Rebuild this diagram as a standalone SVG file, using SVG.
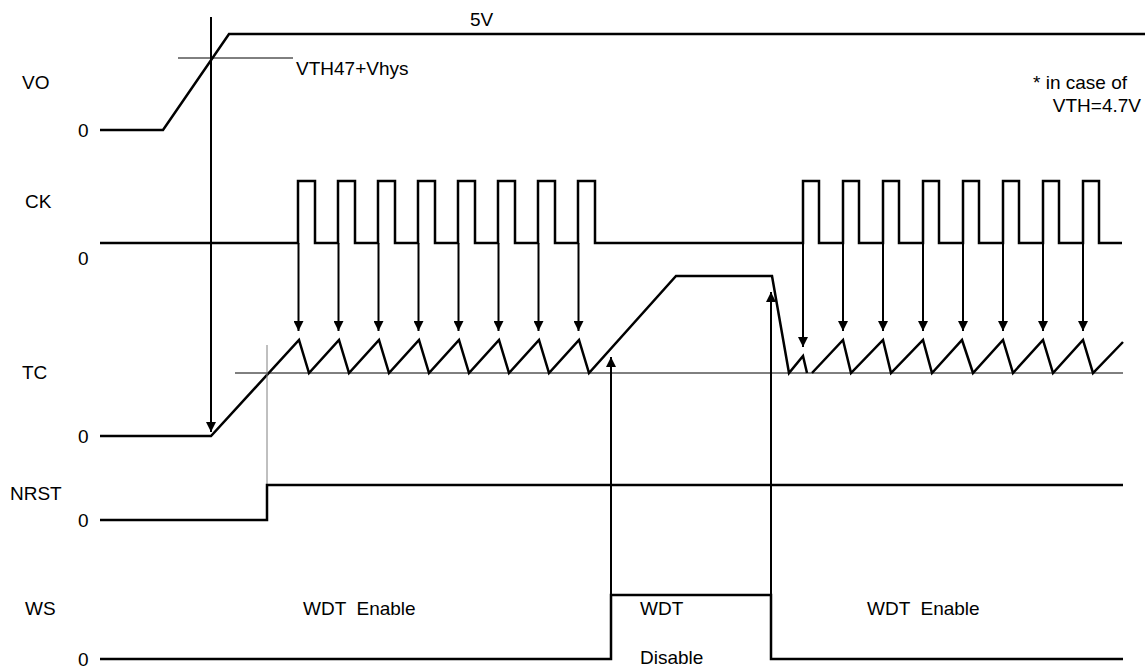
<svg xmlns="http://www.w3.org/2000/svg" width="1145" height="669" viewBox="0 0 1145 669">
<style>
text{font-family:"Liberation Sans",Arial,sans-serif;font-size:19px;fill:#000}
.sig{fill:none;stroke:#000;stroke-width:2.5;stroke-linejoin:miter}
.thin{fill:none;stroke:#000;stroke-width:1}
.gray{fill:none;stroke:#808080;stroke-width:1}
.arr{fill:none;stroke:#000;stroke-width:2;marker-end:url(#ah)}
</style>
<defs>
<marker id="ah" viewBox="0 0 10 10" refX="10" refY="5" markerWidth="10" markerHeight="10" orient="auto" markerUnits="userSpaceOnUse">
<path d="M0,0 L10,5 L0,10 Z" fill="#000"/>
</marker>
</defs>
<rect width="1145" height="669" fill="#fff"/>
<g id="labels">
<text x="22" y="89">VO</text>
<text x="78" y="137">0</text>
<text x="25" y="208">CK</text>
<text x="78" y="265">0</text>
<text x="22" y="379">TC</text>
<text x="78" y="443">0</text>
<text x="10" y="500">NRST</text>
<text x="78" y="527">0</text>
<text x="25" y="615">WS</text>
<text x="78" y="666">0</text>
<text x="470" y="26">5V</text>
<text x="296" y="75">VTH47+Vhys</text>
<text x="1127" y="89" text-anchor="end" xml:space="preserve">* in case of</text>
<text x="1141" y="112" text-anchor="end">VTH=4.7V</text>
<text x="303" y="615" xml:space="preserve">WDT  Enable</text>
<text x="640" y="615">WDT</text>
<text x="640" y="664">Disable</text>
<text x="867" y="615" xml:space="preserve">WDT  Enable</text>
</g>
<g id="VO">
<path class="sig" d="M100,130 H163 L229,34 H1145"/>
<path class="thin" d="M178,58 H293"/>
</g>
<g id="CK">
<path class="sig" d="M100,243 H298 V181 H315 V243 H338 V181 H355 V243 H378 V181 H395 V243 H418 V181 H435 V243 H458 V181 H475 V243 H498 V181 H515 V243 H538 V181 H555 V243 H578 V181 H595 V243 H803 V181 H819 V243 H843 V181 H859 V243 H883 V181 H899 V243 H923 V181 H939 V243 H963 V181 H979 V243 H1003 V181 H1019 V243 H1043 V181 H1059 V243 H1083 V181 H1099 V243 H1122"/>
</g>
<g id="TC">
<path class="thin" d="M235,373 H1123"/>
<path class="sig" d="M100,436 H211 L299,340 L309,373 L339,340 L349,373 L379,340 L389,373 L419,340 L429,373 L459,340 L469,373 L499,340 L509,373 L539,340 L549,373 L579,340 L589,373 L676,276 H772 L789,373 L803,356 L807,373 M812,373 L843,340 L851,373 L883,340 L891,373 L923,340 L932,373 L962,340 L973,373 L1003,340 L1013,373 L1043,340 L1053,373 L1083,340 L1093,373 L1123,342"/>
</g>
<g id="NRST">
<path class="gray" d="M267,345 V485"/>
<path class="sig" d="M100,520 H267 V485 H1123"/>
</g>
<g id="WS">
<path class="sig" d="M100,659 H611 V595 H771 V659 H1123"/>
</g>
<g id="connectors">
<line class="arr" x1="211" y1="17" x2="211" y2="432"/>
<line class="arr" x1="298.5" y1="243" x2="298.5" y2="331"/>
<line class="arr" x1="338.5" y1="243" x2="338.5" y2="331"/>
<line class="arr" x1="378.5" y1="243" x2="378.5" y2="331"/>
<line class="arr" x1="418.5" y1="243" x2="418.5" y2="331"/>
<line class="arr" x1="458.5" y1="243" x2="458.5" y2="331"/>
<line class="arr" x1="498.5" y1="243" x2="498.5" y2="331"/>
<line class="arr" x1="538.5" y1="243" x2="538.5" y2="331"/>
<line class="arr" x1="578.5" y1="243" x2="578.5" y2="331"/>
<line class="arr" x1="803" y1="243" x2="803" y2="347"/>
<line class="arr" x1="843" y1="243" x2="843" y2="331"/>
<line class="arr" x1="883" y1="243" x2="883" y2="331"/>
<line class="arr" x1="923" y1="243" x2="923" y2="331"/>
<line class="arr" x1="963" y1="243" x2="963" y2="331"/>
<line class="arr" x1="1003" y1="243" x2="1003" y2="331"/>
<line class="arr" x1="1043" y1="243" x2="1043" y2="331"/>
<line class="arr" x1="1083" y1="243" x2="1083" y2="331"/>
<line class="arr" x1="611" y1="595" x2="611" y2="357"/>
<line class="arr" x1="771" y1="595" x2="771" y2="292"/>
</g>
</svg>
